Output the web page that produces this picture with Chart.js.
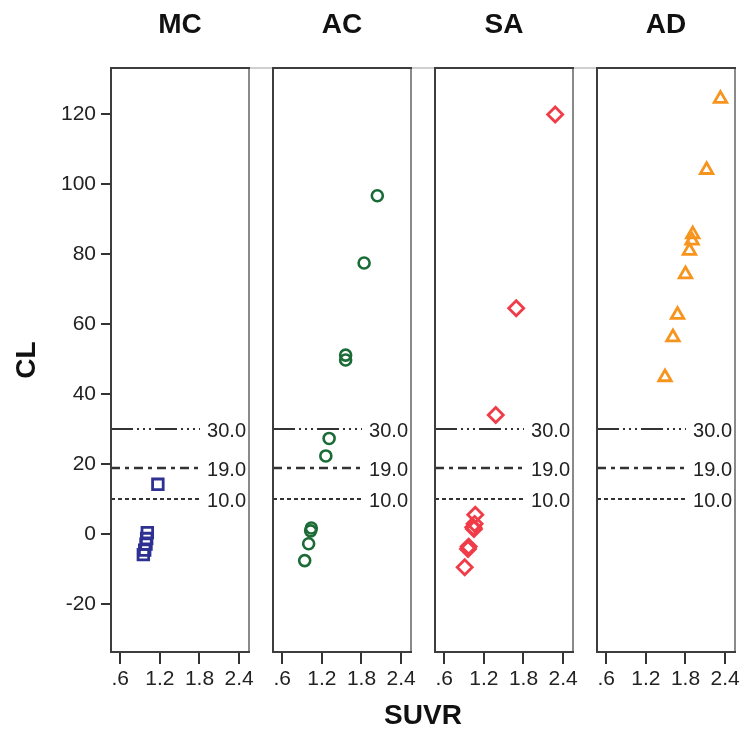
<!DOCTYPE html>
<html><head><meta charset="utf-8">
<script src="https://cdn.jsdelivr.net/npm/chart.js@4.4.1/dist/chart.umd.min.js"></script>
<style>
html,body{margin:0;padding:0;background:#fff;}
#wrap{position:relative;width:742px;height:738px;overflow:hidden;font-family:'Liberation Sans',Arial,sans-serif;}
canvas{position:absolute;top:0;}
#topline{position:absolute;left:111px;top:67px;width:624px;height:2px;background:#cfcfcf;}
#xtitle{position:absolute;left:323px;width:200px;top:699px;line-height:32px;text-align:center;font-weight:bold;font-size:28px;color:#111;}
</style></head>
<body>
<div id="wrap">
<div id="topline"></div>
<canvas id="c0"></canvas><canvas id="c1"></canvas><canvas id="c2"></canvas><canvas id="c3"></canvas>
<div id="xtitle">SUVR</div>
</div>
<script>
// ---- data ----
const panelNames = ['MC','AC','SA','AD'];
const mcSUVR = [1.17, 1.01, 1.00, 0.99, 0.97, 0.95];
const mcCL   = [14.3, 0.5, -1.2, -2.8, -4.5, -5.8];
const acSUVR = [2.04, 1.84, 1.56, 1.56, 1.31, 1.26, 1.04, 1.03, 1.00, 0.94];
const acCL   = [96.7, 77.5, 51.2, 49.8, 27.4, 22.4, 1.8, 1.0, -2.7, -7.5];
const saSUVR = [2.28, 1.69, 1.38, 1.07, 1.06, 1.04, 1.05, 0.97, 0.96, 0.91];
const saCL   = [119.9, 64.6, 34.1, 5.6, 3.0, 2.0, 1.5, -3.5, -4.2, -9.4];
const adSUVR = [2.33, 2.12, 1.91, 1.90, 1.86, 1.80, 1.68, 1.61, 1.49];
const adCL   = [124.4, 104.1, 85.7, 83.9, 81.0, 74.3, 62.7, 56.3, 44.9];
const refValues = [30, 19, 10];
const refLabels = ['30.0', '19.0', '10.0'];
const xTickValues = [0.6, 1.2, 1.8, 2.4];
const xTickLabels = ['.6', '1.2', '1.8', '2.4'];
const yTickValues = [-20, 0, 20, 40, 60, 80, 100, 120];

// ---- styling ----
const FONT = "'Liberation Sans', Arial, sans-serif";
const series = [
  {x: mcSUVR, y: mcCL, style: 'rect',     color: '#2e3192', r: 7.5, bw: 2.8},
  {x: acSUVR, y: acCL, style: 'circle',   color: '#1b6b37', r: 5.5, bw: 2.6},
  {x: saSUVR, y: saCL, style: 'rectRot',  color: '#f03c48', r: 7.5, bw: 2.8},
  {x: adSUVR, y: adCL, style: 'triangle', color: '#f7941d', r: 7.2, bw: 2.8}
];
const refDash = [[22,4,2,4,2,4,2,4], [9,5,4,5], [4,3]];
const refWidth = [1.8, 2.4, 1.8];
const panelLeft = [111, 273, 435, 597];
const panelW = 138;
const PAD = 12;

const refPlugin = {
  id: 'refs',
  beforeDatasetsDraw(chart) {
    const {ctx, chartArea: a, scales: {y}} = chart;
    refValues.forEach((v, i) => {
      const py = Math.round(y.getPixelForValue(v));
      ctx.save();
      ctx.strokeStyle = '#333';
      ctx.lineWidth = refWidth[i];
      ctx.setLineDash(refDash[i]);
      ctx.beginPath();
      ctx.moveTo(a.left, py);
      ctx.lineTo(a.right - 49, py);
      ctx.stroke();
      ctx.setLineDash([]);
      ctx.fillStyle = '#222';
      ctx.font = '20px ' + FONT;
      ctx.textAlign = 'right';
      ctx.textBaseline = 'middle';
      ctx.fillText(refLabels[i], a.right - 3, py + 2);
      ctx.restore();
    });
  }
};
const framePlugin = {
  id: 'frame',
  afterDraw(chart) {
    const {ctx, chartArea: a} = chart;
    ctx.save();
    ctx.lineWidth = 2;
    ctx.strokeStyle = '#8a8a8a';
    ctx.beginPath(); ctx.moveTo(a.right, a.top); ctx.lineTo(a.right, a.bottom); ctx.stroke();
    ctx.strokeStyle = '#3d3d3d';
    ctx.beginPath();
    ctx.moveTo(a.right + 1, a.top); ctx.lineTo(a.left, a.top); ctx.lineTo(a.left, a.bottom); ctx.lineTo(a.right + 1, a.bottom);
    ctx.stroke();
    ctx.restore();
  }
};

panelNames.forEach((name, p) => {
  const cv = document.getElementById('c' + p);
  const first = p === 0;
  const left = first ? 0 : panelLeft[p] - PAD;
  const width = first ? panelLeft[0] + panelW + PAD : panelW + 2 * PAD;
  cv.style.left = left + 'px';
  cv.width = width; cv.height = 738;
  cv.style.width = width + 'px'; cv.style.height = '738px';
  const s = series[p];
  new Chart(cv, {
    type: 'scatter',
    data: {
      datasets: [{
        data: s.x.map((v, i) => ({x: v, y: s.y[i]})),
        pointStyle: s.style,
        pointRadius: s.r,
        pointBorderWidth: s.bw,
        borderColor: s.color,
        backgroundColor: 'rgba(0,0,0,0)',
        pointBackgroundColor: 'rgba(0,0,0,0)',
        pointBorderColor: s.color
      }]
    },
    options: {
      responsive: false,
      animation: false,
      devicePixelRatio: 1,
      layout: {padding: {left: first ? 0 : PAD, right: PAD, top: 0, bottom: 0}},
      plugins: {
        legend: {display: false},
        tooltip: {enabled: false},
        title: {
          display: true, text: name, color: '#111', fullSize: false,
          font: {family: FONT, size: 28, weight: 'bold', lineHeight: 1.2},
          padding: {top: 8.2, bottom: 26.2}
        }
      },
      scales: {
        x: {
          type: 'linear', min: 0.46, max: 2.55,
          afterBuildTicks: sc => { sc.ticks = xTickValues.map(v => ({value: v})); },
          afterFit: sc => { sc.height = 86; },
          ticks: {
            autoSkip: false, maxRotation: 0, padding: 3, color: '#222',
            font: {family: FONT, size: 21},
            callback: (v, i) => xTickLabels[i]
          },
          grid: {display: true, drawOnChartArea: false, drawTicks: true, tickLength: 12, color: '#333', lineWidth: 2},
          border: {display: false}
        },
        y: {
          type: 'linear', min: -33.6, max: 133.2,
          display: first,
          afterBuildTicks: sc => { sc.ticks = yTickValues.map(v => ({value: v})); },
          afterFit: sc => { sc.width = first ? panelLeft[0] : 0; },
          ticks: {padding: 5, color: '#222', font: {family: FONT, size: 21}},
          grid: {display: true, drawOnChartArea: false, drawTicks: true, tickLength: 10, color: '#333', lineWidth: 2},
          border: {display: false},
          title: {
            display: first, text: 'CL', color: '#111',
            font: {family: FONT, size: 28, weight: 'bold', lineHeight: 1.2},
            padding: {top: 10, bottom: 0}
          }
        }
      }
    },
    plugins: [refPlugin, framePlugin]
  });
});
</script>
</body></html>
